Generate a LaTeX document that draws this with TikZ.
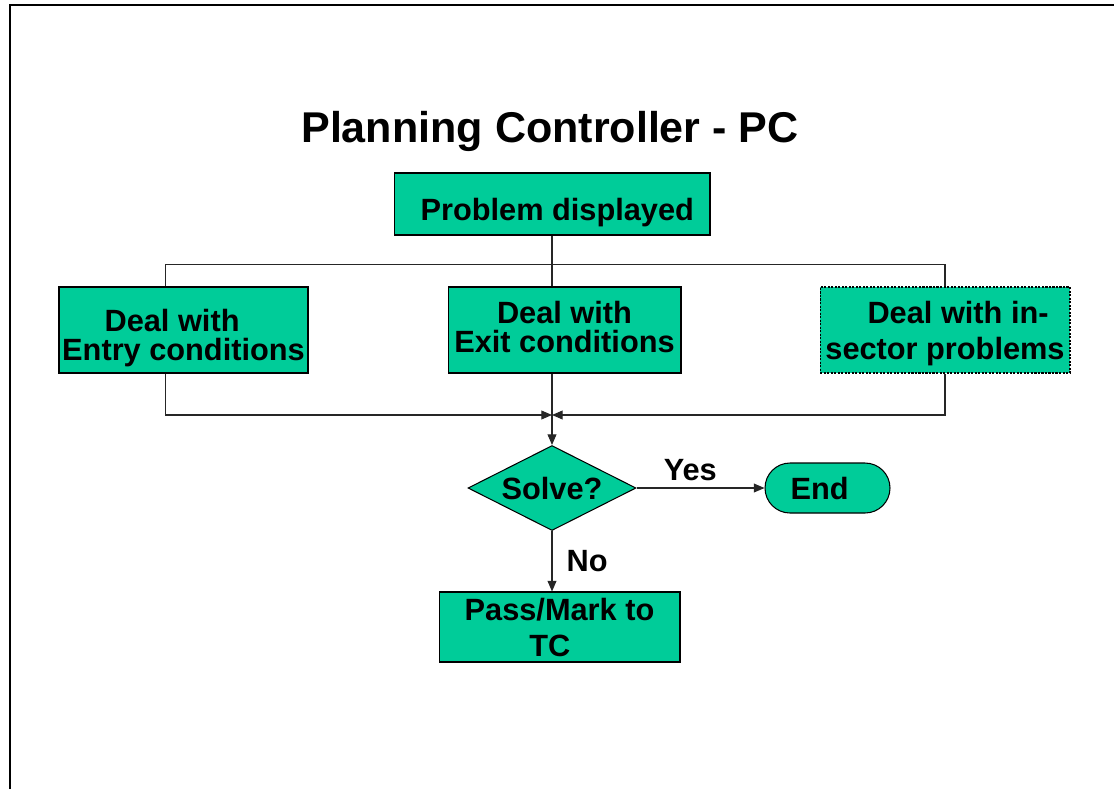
\documentclass[tikz,border=0pt]{standalone}
\usepackage{fontspec}
\setmainfont{Liberation Sans}
\usetikzlibrary{arrows.meta,shapes.geometric,shapes.misc}
\definecolor{boxgreen}{RGB}{0,204,153}

\begin{document}
\begin{tikzpicture}[x=0.02cm, y=-0.02cm, >={Triangle[length=6pt,width=5pt]},
  box/.style={draw, line width=0.6pt, fill=boxgreen, align=center, inner sep=0pt,
    font=\fontsize{17.5}{20.5}\selectfont\bfseries},
  link/.style={draw=black!85, line width=0.6pt},
  answer/.style={inner sep=0pt, font=\fontsize{17.5}{20.5}\selectfont\bfseries}]
  \useasboundingbox (0,0) rectangle (1114,789);
  \clip (0,0) rectangle (1114,789);

  % Page frame
  \draw[line width=0.9pt] (10,789) -- (10,5) -- (1114,5);

  % Title
  \node[font=\fontsize{24.5}{29}\selectfont\bfseries] (title) at (550,131) {Planning Controller - PC};

  % Boxes
  \node[box, minimum width=6.32cm, minimum height=1.24cm] (problem) at (552,204)
    {\rule{0pt}{22pt}\hspace*{6pt}Problem displayed};
  \node[box, minimum width=4.98cm, minimum height=1.72cm] (entry) at (183.5,330)
    {\rule{0pt}{22pt}Deal with\hspace*{13pt}\\[-4pt]Entry conditions};
  \node[box, minimum width=4.66cm, minimum height=1.72cm] (exit) at (564.5,330)
    {Deal with\\[-4pt]Exit conditions\rule[-3.5pt]{0pt}{0pt}};
  \node[box, dash pattern=on 1.2pt off 0.8pt, minimum width=5cm, minimum height=1.72cm] (insector) at (945,330)
    {\rule{0pt}{17pt}\hspace*{0.85em}Deal with in-\\sector problems};
  \node[box, diamond, aspect=2, minimum width=3.36cm, minimum height=1.7cm] (solve) at (552,488) {Solve?};
  \node[box, rounded rectangle, minimum width=2.5cm, minimum height=1cm] (finish) at (827.5,488)
    {End\hspace*{9pt}};
  \node[box, minimum width=4.82cm, minimum height=1.4cm] (pass) at (559.5,627)
    {Pass/Mark to\\TC\hspace*{11pt}};

  % Split and merge points
  \path (problem.south) ++(0,29) coordinate (split);
  \path (solve.north) ++(0,-30) coordinate (merge);

  % Connectors
  \draw[link] ([xshift=-10.5pt]entry.north) |- (split) -| (insector.north);
  \draw[link] (problem.south) -- (split |- exit.north);
  \draw[link, ->] ([xshift=-10.5pt]entry.south) |- (merge);
  \draw[link, ->] (insector.south) |- (merge);
  \draw[link, ->] (merge |- exit.south) -- (solve.north);
  \draw[link, ->] (solve.east) -- node[answer, pos=0.42, above=4pt] {Yes} (finish.west);
  \draw[link, ->] (solve.south) -- node[answer, right=8pt] {No} (solve.south |- pass.north);
\end{tikzpicture}
\end{document}
